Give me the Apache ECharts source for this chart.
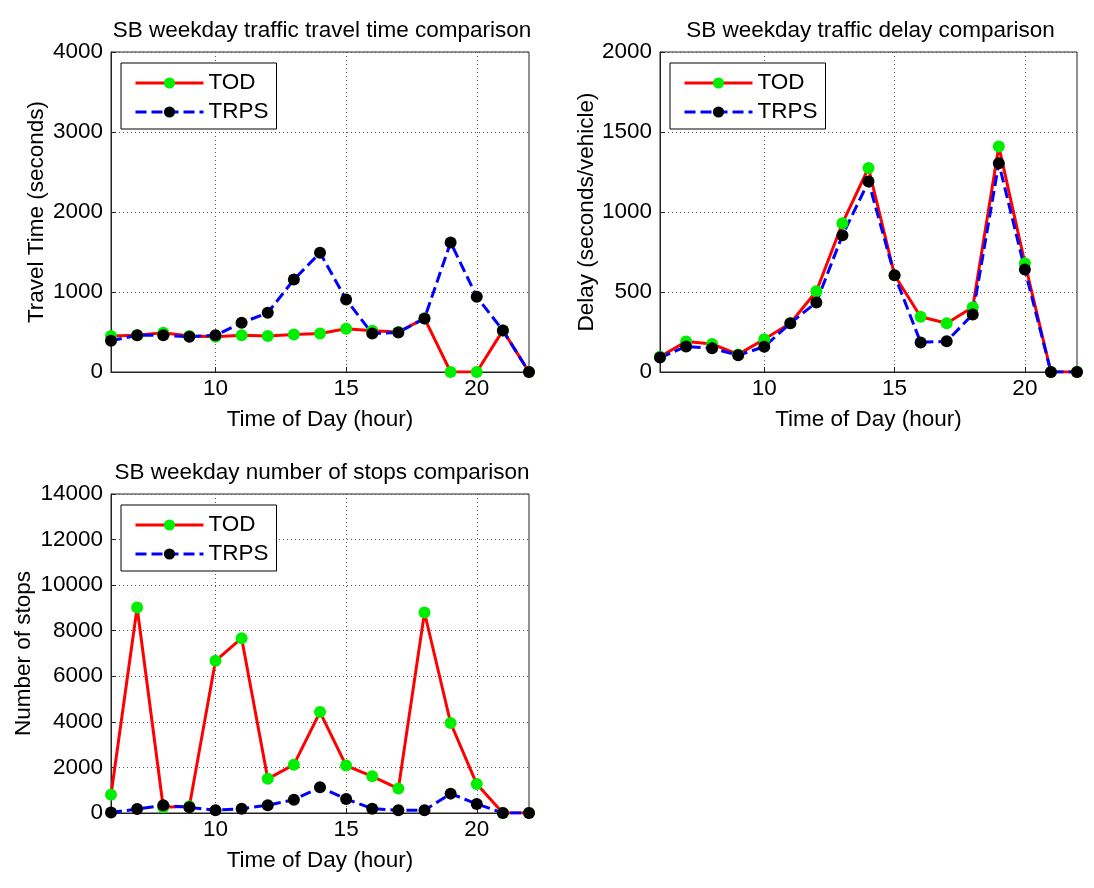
<!DOCTYPE html>
<html>
<head>
<meta charset="utf-8">
<script src="https://cdn.jsdelivr.net/npm/echarts@6/dist/echarts.min.js"></script>
<style>
  html, body { margin: 0; padding: 0; background: #fff; }
  #chart { width: 1094px; height: 888px; }
</style>
</head>
<body>
<div id="chart"></div>
<script>
// hours of day (x values)
const hours = [6, 7, 8, 9, 10, 11, 12, 13, 14, 15, 16, 17, 18, 19, 20, 21, 22];

// travel time (seconds)
const travelTOD  = [450, 460, 490, 450, 440, 460, 450, 470, 480, 540, 515, 500, 670, 0, 0, 520, 0];
const travelTRPS = [390, 460, 460, 440, 460, 615, 740, 1155, 1490, 905, 480, 495, 670, 1620, 940, 520, 0];

// delay (seconds/vehicle)
const delayTOD  = [95, 190, 175, 110, 205, 305, 505, 930, 1275, 605, 345, 305, 405, 1410, 680, 0, 0];
const delayTRPS = [90, 160, 148, 105, 158, 305, 435, 855, 1190, 605, 185, 192, 360, 1305, 640, 0, 0];

// number of stops
const stopsTOD  = [800, 9020, 250, 300, 6680, 7670, 1500, 2120, 4430, 2080, 1610, 1070, 8800, 3950, 1270, 0, 0];
const stopsTRPS = [20, 175, 336, 250, 120, 190, 340, 585, 1125, 615, 190, 120, 120, 850, 400, 0, 0];

const xTicks = [10, 15, 20];

const FONT = 'Liberation Sans, Arial, sans-serif';
const FS = 22.5;

// pairs [x, y] for the line series
function pairs(ys) {
    return hours.map((h, i) => [h, ys[i]]);
}

const grids = [
    { left: 111, top: 52, width: 418, height: 320 },
    { left: 660, top: 52, width: 417, height: 320 },
    { left: 111, top: 494, width: 418, height: 319 }
];

const panels = [
    { title: 'SB weekday traffic travel time comparison', yName: 'Travel Time (seconds)', yMax: 4000, yStep: 1000, yGap: 63, tod: travelTOD, trps: travelTRPS },
    { title: 'SB weekday traffic delay comparison', yName: 'Delay (seconds/vehicle)', yMax: 2000, yStep: 500, yGap: 60, tod: delayTOD, trps: delayTRPS },
    { title: 'SB weekday number of stops comparison', yName: 'Number of stops', yMax: 14000, yStep: 2000, yGap: 76, tod: stopsTOD, trps: stopsTRPS }
];

const gridLine = { show: true, lineStyle: { color: '#555', type: [1, 3], width: 1 } };

const option = {
    backgroundColor: '#fff',
    animation: false,
    title: panels.map((p, i) => ({
        text: p.title,
        left: grids[i].left + grids[i].width / 2 - 3,
        top: grids[i].top - 38,
        textAlign: 'center',
        textStyle: { fontFamily: FONT, fontSize: FS, fontWeight: 'normal', color: '#000' }
    })),
    grid: grids.map(g => Object.assign({ show: true, borderColor: '#222', borderWidth: 1, backgroundColor: 'transparent' }, g)),
    legend: panels.map((p, i) => ({
        orient: 'vertical',
        left: grids[i].left + 10,
        top: grids[i].top + 11,
        padding: [8, 8, 5, 13],
        itemGap: 5,
        itemWidth: 68,
        itemHeight: 14,
        borderColor: '#000',
        borderWidth: 1,
        backgroundColor: '#fff',
        lineStyle: { width: 3 },
        data: ['TOD' + i, 'TRPS' + i],
        formatter: name => name.replace(/\d+$/, ''),
        textStyle: { fontFamily: FONT, fontSize: FS, color: '#000', lineHeight: 24 }
    })),
    xAxis: panels.map((p, i) => ({
        type: 'value',
        gridIndex: i,
        min: 6,
        max: 22,
        name: 'Time of Day (hour)',
        nameLocation: 'middle',
        nameGap: 36,
        nameTextStyle: { fontFamily: FONT, fontSize: FS, color: '#000' },
        axisLine: { lineStyle: { color: '#222' } },
        axisTick: { inside: true, length: 5, customValues: xTicks, lineStyle: { color: '#222' } },
        axisLabel: { customValues: xTicks, fontFamily: FONT, fontSize: FS, color: '#000', margin: 5 },
        splitLine: gridLine
    })),
    yAxis: panels.map((p, i) => ({
        type: 'value',
        gridIndex: i,
        min: 0,
        max: p.yMax,
        interval: p.yStep,
        name: p.yName,
        nameLocation: 'middle',
        nameGap: p.yGap,
        nameTextStyle: { fontFamily: FONT, fontSize: FS, color: '#000' },
        axisLine: { show: true, lineStyle: { color: '#222' } },
        axisTick: { show: true, inside: true, length: 5, lineStyle: { color: '#222' } },
        axisLabel: { formatter: v => String(v), fontFamily: FONT, fontSize: FS, color: '#000', margin: 8 },
        splitLine: gridLine
    })),
    series: []
};

panels.forEach((p, i) => {
    option.series.push({
        name: 'TOD' + i,
        type: 'line',
        xAxisIndex: i,
        yAxisIndex: i,
        data: pairs(p.tod),
        symbol: 'circle',
        symbolSize: 12,
        lineStyle: { color: '#ff0000', width: 3 },
        itemStyle: { color: '#00ee00', borderWidth: 0 },
        color: '#ff0000'
    });
    option.series.push({
        name: 'TRPS' + i,
        type: 'line',
        xAxisIndex: i,
        yAxisIndex: i,
        data: pairs(p.trps),
        symbol: 'circle',
        symbolSize: 12,
        lineStyle: { color: '#0000ff', width: 3, type: [11, 5] },
        itemStyle: { color: '#000', borderWidth: 0 },
        color: '#0000ff'
    });
});

const chart = echarts.init(document.getElementById('chart'), null, { renderer: 'canvas' });
chart.setOption(option);
</script>
</body>
</html>
